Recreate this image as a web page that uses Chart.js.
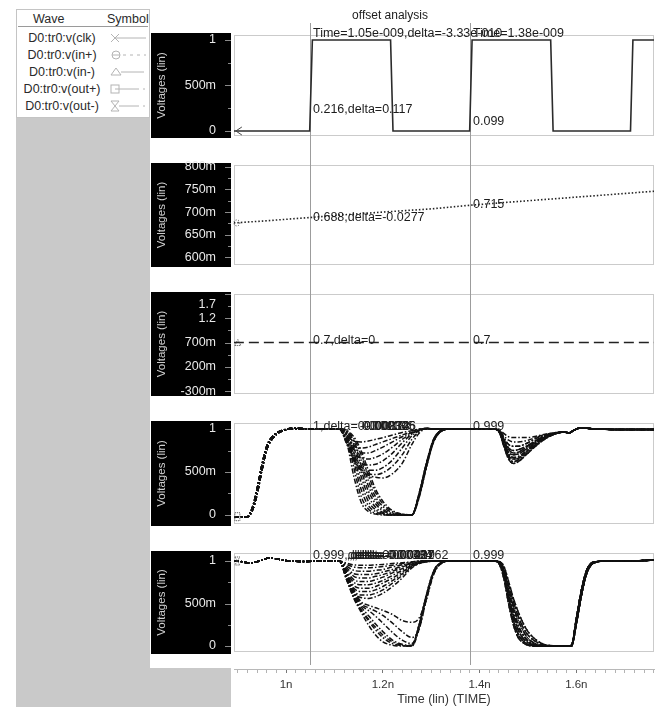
<!DOCTYPE html>
<html>
<head>
<meta charset="utf-8">
<title>offset analysis</title>
<script src="https://cdn.jsdelivr.net/npm/chart.js@4.4.1/dist/chart.umd.min.js"></script>
<style>
  html, body { margin: 0; padding: 0; background: #fff; }
  body { width: 659px; height: 707px; position: relative; overflow: hidden;
         font-family: "Liberation Sans", Arial, sans-serif; }
  .pane { position: absolute; left: 151px; width: 508px; }
  .pane canvas { display: block; }
  #side { position: absolute; left: 16px; top: 118px; width: 134px; height: 589px; background: #c9c9c9; }
  #corner { position: absolute; left: 150px; top: 668px; width: 81px; height: 39px; background: #c9c9c9; }
  #legend { position: absolute; left: 16px; top: 9px; width: 132px; height: 107px; background: #fff;
            border: 1px solid #c4c4c4; font-size: 12.5px; line-height: 14px; color: #2a2a2a; overflow: hidden; }
  #legend .hdr { position: absolute; top: 2px; }
  #legend .rule { position: absolute; left: 1px; right: 1px; top: 16px; border-top: 1px solid #9a9a9a; }
  #legend .name { position: absolute; left: 0; width: 90px; text-align: center; white-space: nowrap; }
  #legend svg { position: absolute; left: 91px; }
</style>
</head>
<body>
<div id="side"></div>
<div id="corner"></div>
<div id="legend">
  <span class="hdr" style="left:16px">Wave</span>
  <span class="hdr" style="left:90px">Symbol</span>
  <div class="rule"></div>
</div>
<div class="pane" style="top:0;height:150px"><canvas id="pClk" width="508" height="150"></canvas></div>
<div class="pane" style="top:150px;height:130px"><canvas id="pInp" width="508" height="130"></canvas></div>
<div class="pane" style="top:280px;height:128px"><canvas id="pInm" width="508" height="128"></canvas></div>
<div class="pane" style="top:408px;height:130px"><canvas id="pOutp" width="508" height="130"></canvas></div>
<div class="pane" style="top:538px;height:129px"><canvas id="pOutn" width="508" height="129"></canvas></div>
<div class="pane" style="top:660px;height:47px"><canvas id="pTime" width="508" height="47"></canvas></div>

<script>
// ---------- signals and axes ----------
const waveNames = ['D0:tr0:v(clk)', 'D0:tr0:v(in+)', 'D0:tr0:v(in-)', 'D0:tr0:v(out+)', 'D0:tr0:v(out-)'];

// time axis in ns
const timeMin = 0.8923;
const timeMax = 1.7606;
const cursorTimes = [1.05, 1.38];
const timeLabelValues = [1.0, 1.2, 1.4, 1.6];
const timeLabels = ['1n', '1.2n', '1.4n', '1.6n'];

// v(clk)
const clkT = [0.892, 1.0488, 1.0543, 1.216, 1.221, 1.3795, 1.3845, 1.547, 1.552, 1.712, 1.717, 1.761];
const clkV = [0, 0, 1, 1, 0, 0, 1, 1, 0, 0, 1, 1];
const clkTicks = [0, 0.5, 1];
const clkTickLabels = ['0', '500m', '1'];

// v(in+)
const inpT = [0.892, 0.95, 1.0, 1.05, 1.12, 1.2, 1.3, 1.38, 1.45, 1.55, 1.65, 1.761];
const inpV = [0.676, 0.680, 0.684, 0.688, 0.694, 0.700, 0.707, 0.715, 0.721, 0.729, 0.737, 0.746];
const inpTicks = [0.6, 0.65, 0.7, 0.75, 0.8];
const inpTickLabels = ['600m', '650m', '700m', '750m', '800m'];

// v(in-)
const inmT = [0.892, 1.05, 1.38, 1.761];
const inmV = [0.7, 0.7, 0.7, 0.7];
const inmTicks = [-0.3, 0.2, 0.7, 1.2, 1.7];
const inmTickLabels = ['-300m', '200m', '700m', '1.2', ''];

// v(out+) : start-up edge, first disturbance, second disturbance
const outpRiseT = [0.892, 0.920, 0.930, 0.940, 0.950, 0.960, 0.975, 0.996, 1.017, 1.05];
const outpRise = [
  [-0.02, -0.02, 0.08, 0.30, 0.58, 0.80, 0.93, 0.99, 1.01, 1.0],
  [-0.02, -0.02, 0.05, 0.24, 0.52, 0.76, 0.91, 0.985, 1.0, 1.0]
];
const outpFallT = [1.11, 1.125, 1.14, 1.155, 1.17, 1.185, 1.20, 1.22, 1.24, 1.26, 1.275, 1.29, 1.305, 1.32, 1.34];
const outpFall = [
  [1, 0.85, 0.45, 0.15, 0.04, 0.01, 0, 0, 0, 0, 0.25, 0.6, 0.88, 0.98, 1],
  [1, 0.9, 0.55, 0.22, 0.07, 0.02, 0.005, 0, 0, 0, 0.22, 0.57, 0.86, 0.975, 1],
  [1, 0.92, 0.62, 0.3, 0.11, 0.04, 0.01, 0, 0, 0, 0.25, 0.6, 0.88, 0.98, 1],
  [1, 0.94, 0.68, 0.38, 0.16, 0.06, 0.02, 0, 0, 0, 0.2, 0.55, 0.85, 0.97, 1],
  [1, 0.95, 0.73, 0.45, 0.22, 0.09, 0.03, 0.005, 0, 0, 0.24, 0.59, 0.87, 0.98, 1],
  [1, 0.96, 0.78, 0.52, 0.28, 0.13, 0.05, 0.01, 0, 0, 0.22, 0.56, 0.86, 0.975, 1],
  [1, 0.97, 0.82, 0.58, 0.34, 0.17, 0.07, 0.015, 0, 0, 0.25, 0.6, 0.88, 0.98, 1],
  [1, 0.975, 0.86, 0.64, 0.4, 0.21, 0.1, 0.025, 0.005, 0, 0.21, 0.56, 0.85, 0.97, 1],
  [1, 0.98, 0.89, 0.7, 0.46, 0.26, 0.13, 0.04, 0.01, 0, 0.24, 0.58, 0.87, 0.98, 1],
  [1, 0.985, 0.91, 0.75, 0.52, 0.3, 0.16, 0.05, 0.01, 0, 0.22, 0.57, 0.86, 0.975, 1],
  [1, 0.83, 0.63, 0.52, 0.46, 0.44, 0.43, 0.48, 0.6, 0.82, 0.95, 1.0, 1.0, 1.0, 1.0],
  [1, 0.84, 0.64, 0.53, 0.48, 0.47, 0.49, 0.57, 0.7, 0.88, 0.97, 1.01, 1.0, 1.0, 1.0],
  [1, 0.85, 0.66, 0.56, 0.52, 0.52, 0.55, 0.64, 0.78, 0.92, 0.98, 1.01, 1.0, 1.0, 1.0],
  [1, 0.86, 0.68, 0.6, 0.58, 0.59, 0.63, 0.72, 0.84, 0.94, 0.99, 1.01, 1.0, 1.0, 1.0],
  [1, 0.87, 0.72, 0.66, 0.65, 0.67, 0.71, 0.79, 0.88, 0.95, 0.99, 1.0, 1.0, 1.0, 1.0],
  [1, 0.88, 0.76, 0.72, 0.72, 0.75, 0.79, 0.85, 0.91, 0.96, 0.99, 1.0, 1.0, 1.0, 1.0],
  [1, 0.9, 0.8, 0.78, 0.79, 0.82, 0.85, 0.89, 0.93, 0.97, 1.0, 1.0, 1.0, 1.0, 1.0],
  [1, 0.93, 0.86, 0.85, 0.86, 0.88, 0.9, 0.93, 0.96, 0.98, 1.0, 1.0, 1.0, 1.0, 1.0]
];
const outpDipT = [1.43, 1.44, 1.45, 1.46, 1.47, 1.48, 1.50, 1.52, 1.54, 1.56, 1.575, 1.585, 1.595, 1.61, 1.64, 1.70, 1.761];
const outpDip = [
  [0.999, 0.97, 0.8, 0.65, 0.6, 0.62, 0.72, 0.82, 0.9, 0.95, 0.965, 0.955, 0.985, 1.015, 1.0, 0.995, 0.995],
  [0.999, 0.97, 0.82, 0.67, 0.62, 0.64, 0.73, 0.83, 0.905, 0.95, 0.965, 0.955, 0.985, 1.015, 1.0, 0.995, 0.995],
  [0.999, 0.97, 0.83, 0.69, 0.65, 0.66, 0.75, 0.84, 0.91, 0.95, 0.965, 0.955, 0.985, 1.015, 1.0, 0.995, 0.995],
  [0.999, 0.975, 0.85, 0.71, 0.67, 0.68, 0.76, 0.85, 0.915, 0.952, 0.965, 0.955, 0.985, 1.015, 1.0, 0.995, 0.995],
  [0.999, 0.98, 0.86, 0.73, 0.7, 0.71, 0.78, 0.86, 0.92, 0.955, 0.965, 0.955, 0.985, 1.015, 1.0, 0.995, 0.995],
  [0.999, 0.98, 0.87, 0.76, 0.72, 0.73, 0.8, 0.87, 0.925, 0.955, 0.965, 0.955, 0.985, 1.015, 1.0, 0.995, 0.995],
  [0.999, 0.98, 0.88, 0.78, 0.75, 0.76, 0.81, 0.88, 0.93, 0.955, 0.965, 0.955, 0.985, 1.015, 1.0, 0.995, 0.995],
  [0.999, 0.98, 0.9, 0.82, 0.8, 0.8, 0.84, 0.9, 0.935, 0.958, 0.965, 0.955, 0.985, 1.015, 1.0, 0.995, 0.995],
  [0.999, 0.99, 0.92, 0.87, 0.85, 0.85, 0.87, 0.91, 0.94, 0.96, 0.965, 0.955, 0.985, 1.015, 1.0, 0.995, 0.995],
  [0.999, 0.99, 0.95, 0.91, 0.9, 0.9, 0.9, 0.92, 0.945, 0.96, 0.965, 0.955, 0.985, 1.015, 1.0, 0.995, 0.995]
];
const outTicks = [0, 0.5, 1];
const outTickLabels = ['0', '500m', '1'];

// v(out-)
const outnStartT = [0.892, 0.905, 0.925, 0.945, 0.965, 0.985, 1.005, 1.035, 1.07, 1.10];
const outnStart = [1.0, 0.995, 0.975, 1.0, 1.035, 1.02, 1.0, 0.995, 1.0, 1.0];
const outnFallT = [1.11, 1.125, 1.14, 1.155, 1.17, 1.185, 1.20, 1.22, 1.24, 1.26, 1.275, 1.29, 1.305, 1.32, 1.34];
const outnFall = [
  [1, 0.78, 0.56, 0.4, 0.25, 0.13, 0.05, 0.01, 0, 0, 0.25, 0.6, 0.88, 0.98, 1],
  [1, 0.79, 0.57, 0.42, 0.3, 0.19, 0.1, 0.03, 0.005, 0, 0.2, 0.55, 0.85, 0.97, 1],
  [1, 0.8, 0.58, 0.43, 0.32, 0.22, 0.13, 0.05, 0.01, 0, 0.25, 0.6, 0.88, 0.98, 1],
  [1, 0.82, 0.6, 0.46, 0.36, 0.26, 0.17, 0.07, 0.02, 0.01, 0.25, 0.6, 0.88, 0.98, 1],
  [1, 0.84, 0.62, 0.48, 0.42, 0.35, 0.27, 0.16, 0.07, 0.03, 0.22, 0.57, 0.86, 0.97, 1],
  [1, 0.85, 0.64, 0.5, 0.45, 0.41, 0.36, 0.27, 0.17, 0.1, 0.2, 0.55, 0.85, 0.97, 1],
  [1, 0.86, 0.66, 0.52, 0.48, 0.45, 0.42, 0.37, 0.3, 0.28, 0.33, 0.55, 0.84, 0.97, 1],
  [1, 0.78, 0.62, 0.57, 0.56, 0.58, 0.62, 0.7, 0.8, 0.92, 0.97, 0.99, 1, 1, 1],
  [1, 0.8, 0.65, 0.6, 0.6, 0.62, 0.66, 0.74, 0.83, 0.93, 0.97, 0.99, 1, 1, 1],
  [1, 0.82, 0.68, 0.64, 0.64, 0.66, 0.7, 0.77, 0.85, 0.94, 0.975, 0.99, 1, 1, 1],
  [1, 0.84, 0.71, 0.68, 0.68, 0.7, 0.74, 0.8, 0.87, 0.945, 0.98, 0.995, 1, 1, 1],
  [1, 0.86, 0.75, 0.72, 0.72, 0.74, 0.77, 0.83, 0.89, 0.95, 0.98, 0.995, 1, 1, 1],
  [1, 0.88, 0.78, 0.76, 0.76, 0.78, 0.81, 0.86, 0.91, 0.96, 0.985, 1, 1, 1, 1],
  [1, 0.9, 0.82, 0.8, 0.8, 0.82, 0.84, 0.88, 0.93, 0.965, 0.99, 1, 1, 1, 1],
  [1, 0.92, 0.85, 0.84, 0.84, 0.85, 0.87, 0.9, 0.94, 0.97, 0.99, 1, 1, 1, 1],
  [1, 0.94, 0.89, 0.88, 0.88, 0.89, 0.9, 0.93, 0.955, 0.98, 0.995, 1, 1, 1, 1],
  [1, 0.96, 0.93, 0.92, 0.92, 0.925, 0.935, 0.95, 0.97, 0.985, 1, 1, 1, 1, 1],
  [1, 0.975, 0.955, 0.95, 0.95, 0.955, 0.96, 0.97, 0.98, 0.99, 1, 1, 1, 1, 1]
];
const outnDropT = [1.43, 1.44, 1.45, 1.46, 1.47, 1.48, 1.49, 1.50, 1.52, 1.54, 1.58];
const outnDrop = [
  [0.999, 0.97, 0.8, 0.5, 0.25, 0.1, 0.04, 0.01, 0, 0, 0],
  [0.999, 0.98, 0.83, 0.56, 0.3, 0.14, 0.06, 0.02, 0, 0, 0],
  [0.999, 0.98, 0.86, 0.6, 0.36, 0.19, 0.09, 0.04, 0.005, 0, 0],
  [0.999, 0.985, 0.88, 0.64, 0.42, 0.24, 0.13, 0.06, 0.01, 0, 0],
  [0.999, 0.99, 0.9, 0.68, 0.47, 0.3, 0.18, 0.09, 0.02, 0, 0],
  [0.999, 0.99, 0.92, 0.72, 0.52, 0.35, 0.22, 0.13, 0.04, 0.005, 0],
  [0.999, 0.995, 0.94, 0.76, 0.56, 0.4, 0.27, 0.17, 0.06, 0.01, 0]
];
const outnRiseT = [1.59, 1.60, 1.61, 1.62, 1.63, 1.64, 1.66, 1.70, 1.761];
const outnRise = [
  [0.01, 0.32, 0.64, 0.87, 0.97, 0.99, 1.0, 1.0, 1.01],
  [0, 0.26, 0.58, 0.83, 0.95, 0.985, 1.0, 1.0, 1.01]
];

// cursor read-outs
const outpDeltas = ['0.000873', '-0.00214', '0.00118', '0.000326', '-0.00305'];
const outnDeltas = [',delta=0.000431', ',delta=-0.00127', ',delta=0.00384', ',delta=0.00219', ',delta=-0.000762'];

// ---------- legend ----------
const symbolSvgs = [
  '<line x1="3" y1="2" x2="11" y2="10"/><line x1="3" y1="10" x2="11" y2="2"/><line x1="7" y1="6" x2="38" y2="6"/>',
  '<circle cx="8" cy="6" r="4" fill="none"/><line x1="4" y1="6" x2="12" y2="6"/><line x1="15" y1="6" x2="38" y2="6" stroke-dasharray="3,4"/>',
  '<polygon points="3,9 8,2 13,9" fill="none"/><line x1="13" y1="6" x2="36" y2="6"/>',
  '<rect x="3" y="2" width="8" height="8" fill="none"/><line x1="7" y1="6" x2="31" y2="6"/><line x1="35" y1="6" x2="37" y2="6"/>',
  '<line x1="3" y1="1" x2="11" y2="1"/><line x1="3" y1="11" x2="11" y2="11"/><line x1="3" y1="1" x2="11" y2="11"/><line x1="11" y1="1" x2="3" y2="11"/><line x1="11" y1="6" x2="31" y2="6"/><line x1="35" y1="6" x2="37" y2="6"/>'
];
const legendEl = document.getElementById('legend');
waveNames.forEach((name, i) => {
  const cy = 28 + i * 17;
  const s = document.createElement('span');
  s.className = 'name';
  s.style.top = (cy - 7) + 'px';
  s.textContent = name;
  legendEl.appendChild(s);
  const svg = document.createElementNS('http://www.w3.org/2000/svg', 'svg');
  svg.setAttribute('width', '42'); svg.setAttribute('height', '12');
  svg.setAttribute('stroke', '#b4b4b4'); svg.setAttribute('stroke-width', '1');
  svg.style.top = (cy - 6) + 'px';
  svg.innerHTML = symbolSvgs[i];
  legendEl.appendChild(svg);
});

// ---------- charts ----------
const FONT = '"Liberation Sans", Arial, sans-serif';
Chart.defaults.font.family = FONT;
Chart.defaults.font.size = 12.5;

function series(ts, vs) { return ts.map((t, k) => ({ x: t, y: vs[k] })); }

function drawStartMark(ctx, kind, x, y) {
  ctx.save();
  ctx.strokeStyle = '#444';
  ctx.lineWidth = 1;
  ctx.beginPath();
  if (kind === 'arrow') {
    ctx.moveTo(x + 8, y - 4); ctx.lineTo(x + 2, y); ctx.lineTo(x + 8, y + 4);
  } else if (kind === 'circle') {
    ctx.setLineDash([1, 1.5]); ctx.arc(x + 3, y, 3, 0, Math.PI * 2);
  } else if (kind === 'tri') {
    ctx.setLineDash([1, 1]); ctx.moveTo(x + 1, y + 3); ctx.lineTo(x + 4, y - 3); ctx.lineTo(x + 7, y + 3); ctx.closePath();
  } else if (kind === 'square') {
    ctx.setLineDash([1, 1]); ctx.rect(x + 1, y - 4, 5, 8);
  } else if (kind === 'hour') {
    ctx.setLineDash([1, 1]); ctx.moveTo(x + 1, y - 4); ctx.lineTo(x + 6, y - 4); ctx.lineTo(x + 1, y + 4); ctx.lineTo(x + 6, y + 4); ctx.closePath();
  }
  ctx.stroke();
  ctx.restore();
}

const panelDecor = {
  id: 'panelDecor',
  beforeDraw(chart, args, o) {
    const { ctx, chartArea: a } = chart;
    ctx.save();
    ctx.fillStyle = '#000';
    ctx.fillRect(0, Math.round(a.top) - 2, 80, Math.round(a.bottom - a.top) + 4);
    ctx.restore();
  },
  beforeDatasetsDraw(chart, args, o) {
    const { ctx, chartArea: a, scales: { x, y } } = chart;
    ctx.save();
    ctx.lineWidth = 1;
    ctx.strokeStyle = '#cbcbcb';
    ctx.strokeRect(Math.round(a.left) + 0.5, Math.round(a.top) + 0.5,
                   Math.round(a.right - a.left) - 1, Math.round(a.bottom - a.top) - 1);
    ctx.strokeStyle = '#9c9c9c';
    cursorTimes.forEach(t => {
      const px = Math.round(x.getPixelForValue(t)) + 0.5;
      ctx.beginPath();
      ctx.moveTo(px, o.cursorTop || 0);
      ctx.lineTo(px, o.cursorBottom || chart.height);
      ctx.stroke();
    });
    ctx.strokeStyle = '#8a8a8a';
    const tv = o.ticks;
    tv.forEach((v, i) => {
      const py = Math.round(y.getPixelForValue(v)) + 0.5;
      ctx.beginPath(); ctx.moveTo(74, py); ctx.lineTo(80, py); ctx.stroke();
      if (i < tv.length - 1) {
        const pm = Math.round(y.getPixelForValue((v + tv[i + 1]) / 2)) + 0.5;
        ctx.beginPath(); ctx.moveTo(77, pm); ctx.lineTo(80, pm); ctx.stroke();
      }
    });
    ctx.restore();
  },
  afterDatasetsDraw(chart, args, o) {
    const { ctx, scales: { x, y } } = chart;
    ctx.save();
    const p0 = chart.getDatasetMeta(0).data[0];
    if (o.startMark && p0) drawStartMark(ctx, o.startMark, p0.x, p0.y);
    ctx.font = '12.5px ' + FONT;
    ctx.fillStyle = '#1c1c1c';
    ctx.textBaseline = 'alphabetic';
    (o.notes || []).forEach(n => {
      const px = Math.round(x.getPixelForValue(n.t)) + 3;
      const py = n.yPx !== undefined ? n.yPx : y.getPixelForValue(n.v) + n.dy;
      ctx.textAlign = 'left';
      ctx.fillText(n.text, px, py);
      if (n.pile) {
        const x0 = px + ctx.measureText(n.text).width;
        n.pile.forEach((s, k) => ctx.fillText(s, x0 + k * n.step, py));
      }
    });
    (o.texts || []).forEach(s => {
      ctx.font = (s.size || 12.5) + 'px ' + FONT;
      ctx.fillStyle = s.color || '#1c1c1c';
      ctx.textAlign = s.align || 'left';
      ctx.fillText(s.text, s.x, s.y);
    });
    ctx.restore();
  }
};

function makePanel(id, cfg) {
  return new Chart(document.getElementById(id), {
    type: 'line',
    data: { datasets: cfg.datasets },
    plugins: [panelDecor],
    options: {
      responsive: false,
      animation: false,
      events: [],
      layout: { autoPadding: false, padding: { top: cfg.padTop, bottom: cfg.padBottom, left: 0, right: 5 } },
      elements: { point: { radius: 0 } },
      plugins: {
        legend: { display: false },
        tooltip: { enabled: false },
        panelDecor: cfg.decor
      },
      scales: {
        x: { type: 'linear', min: timeMin, max: timeMax, display: false },
        y: {
          type: 'linear', min: cfg.yMin, max: cfg.yMax,
          afterFit(s) { s.width = 83; s.paddingTop = 0; s.paddingBottom = 0; },
          afterBuildTicks(s) { s.ticks = cfg.decor.ticks.map(v => ({ value: v })); },
          grid: { display: false, drawTicks: false },
          border: { display: false },
          ticks: { color: '#e8e8e8', padding: 18, font: { size: 12.5 },
                   callback: (v, i) => cfg.tickLabels[i] },
          title: { display: true, text: 'Voltages (lin)', color: '#cfcfcf',
                   font: { size: 11.5 }, padding: { top: 4, bottom: 0 } }
        }
      }
    }
  });
}

const curveStyle = { borderColor: '#111', borderWidth: 1.5, borderDash: [5, 2, 1.5, 2],
                     cubicInterpolationMode: 'monotone', fill: false };

// v(clk)
makePanel('pClk', {
  padTop: 35, padBottom: 14, yMin: -0.055, yMax: 1.055, tickLabels: clkTickLabels,
  datasets: [{ data: series(clkT, clkV), borderColor: '#2b2b2b', borderWidth: 1.6, tension: 0, fill: false }],
  decor: {
    ticks: clkTicks, cursorTop: 23, startMark: 'arrow',
    notes: [
      { t: 1.05, v: 0.216, dy: 2, text: '0.216,delta=0.117' },
      { t: 1.38, v: 0.099, dy: 3, text: '0.099' },
      { t: 1.05, yPx: 37, text: 'Time=1.05e-009,delta=-3.33e-010' },
      { t: 1.38, yPx: 37, text: 'Time=1.38e-009' }
    ],
    texts: [{ text: 'offset analysis', x: 239, y: 19, align: 'center', size: 12 }]
  }
});

// v(in+)
makePanel('pInp', {
  padTop: 15, padBottom: 15, yMin: 0.583, yMax: 0.804, tickLabels: inpTickLabels,
  datasets: [{ data: series(inpT, inpV), borderColor: '#222', borderWidth: 1.6, borderDash: [1.5, 2], tension: 0, fill: false }],
  decor: {
    ticks: inpTicks, startMark: 'circle',
    notes: [
      { t: 1.05, v: 0.688, dy: 3.5, text: '0.688,delta=-0.0277' },
      { t: 1.38, v: 0.715, dy: 3, text: '0.715' }
    ]
  }
});

// v(in-)
makePanel('pInm', {
  padTop: 14, padBottom: 14, yMin: -0.36, yMax: 1.7, tickLabels: inmTickLabels,
  datasets: [{ data: series(inmT, inmV), borderColor: '#222', borderWidth: 1.4, borderDash: [10, 5], tension: 0, fill: false }],
  decor: {
    ticks: inmTicks, startMark: 'tri',
    notes: [
      { t: 1.05, v: 0.7, dy: 1.5, text: '0.7,delta=0' },
      { t: 1.38, v: 0.7, dy: 1.5, text: '0.7' }
    ],
    texts: [{ text: '1.7', x: 65, y: 28, align: 'right', color: '#e8e8e8' }]
  }
});

// v(out+)
const outpSets = outpFall.map((fall, i) => Object.assign({
  data: series(outpRiseT.concat(outpFallT, outpDipT),
               outpRise[i % outpRise.length].concat(fall, outpDip[i % outpDip.length]))
}, curveStyle));
makePanel('pOutp', {
  padTop: 15, padBottom: 14, yMin: -0.105, yMax: 1.07, tickLabels: outTickLabels,
  datasets: outpSets,
  decor: {
    ticks: outTicks, startMark: 'square',
    notes: [
      { t: 1.05, v: 1, dy: 1, text: '1,delta=', pile: outpDeltas, step: 2 },
      { t: 1.38, v: 0.999, dy: 1, text: '0.999' }
    ]
  }
});

// v(out-)
const outnSets = outnFall.map((fall, i) => Object.assign({
  data: series(outnStartT.concat(outnFallT, outnDropT, outnRiseT),
               outnStart.concat(fall, outnDrop[i % outnDrop.length], outnRise[i % outnRise.length]))
}, curveStyle));
makePanel('pOutn', {
  padTop: 15, padBottom: 15, yMin: -0.07, yMax: 1.094, tickLabels: outTickLabels,
  datasets: outnSets,
  decor: {
    ticks: outTicks, startMark: 'hour', cursorBottom: 127,
    notes: [
      { t: 1.05, v: 0.999, dy: -2, text: '0.999', pile: outnDeltas, step: 2.5 },
      { t: 1.38, v: 0.999, dy: -2, text: '0.999' }
    ]
  }
});

// shared time axis
const isLabelled = v => timeLabelValues.some(l => Math.abs(l - v) < 1e-6);
new Chart(document.getElementById('pTime'), {
  type: 'scatter',
  data: { datasets: [] },
  options: {
    responsive: false,
    animation: false,
    events: [],
    layout: { autoPadding: false, padding: { top: 8, left: 83, right: 5, bottom: 0 } },
    plugins: { legend: { display: false }, tooltip: { enabled: false } },
    scales: {
      y: { display: false },
      x: {
        type: 'linear', min: timeMin, max: timeMax, position: 'bottom',
        afterFit(s) { s.height = 38; s.paddingLeft = 0; s.paddingRight = 0; },
        grid: { drawOnChartArea: false, drawTicks: true, tickLength: 4,
                color: c => (c.tick && isLabelled(c.tick.value)) ? '#777' : '#b3b3b3' },
        border: { display: true, color: '#b8b8b8' },
        ticks: {
          stepSize: 0.02, includeBounds: false, autoSkip: false, maxRotation: 0, padding: 5,
          color: '#333', font: { size: 11.5 },
          callback: v => {
            const k = timeLabelValues.findIndex(l => Math.abs(l - v) < 1e-6);
            return k >= 0 ? timeLabels[k] : '';
          }
        },
        title: { display: true, text: 'Time (lin) (TIME)', color: '#333',
                 font: { size: 12.5 }, padding: { top: 0, bottom: 0 } }
      }
    }
  }
});
</script>
</body>
</html>
